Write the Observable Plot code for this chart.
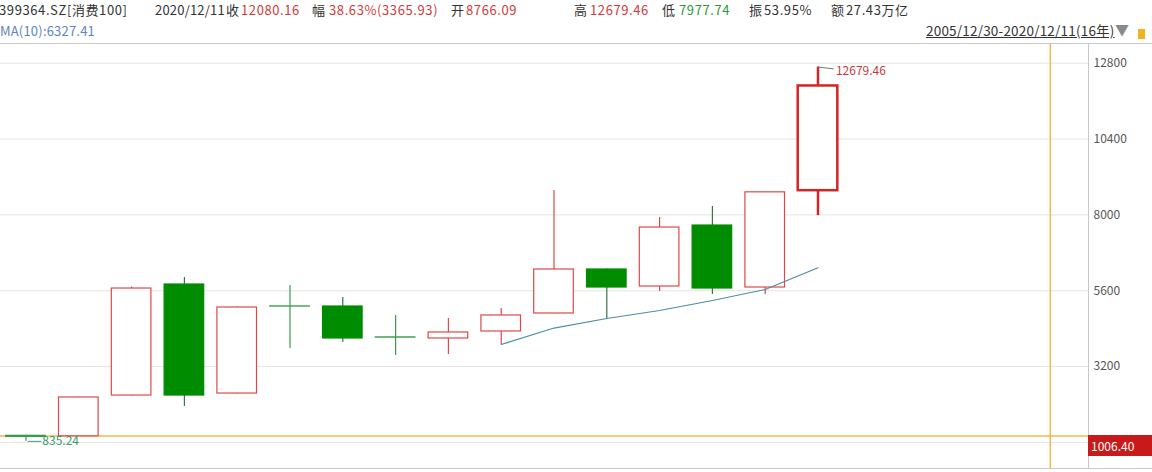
<!DOCTYPE html>
<html>
<head>
<meta charset="utf-8">
<script src="https://cdn.jsdelivr.net/npm/d3@7"></script>
<script src="https://cdn.jsdelivr.net/npm/@observablehq/plot@0.6"></script>
<style>
  html, body { margin: 0; padding: 0; background: #fff; }
  body { width: 1152px; height: 472px; overflow: hidden; font-family: "Noto Sans CJK SC", "Noto Sans", sans-serif; }
  #wrap { position: relative; width: 1152px; height: 472px; }
  #header { position: absolute; left: 0; top: 0; width: 1152px; height: 43px; border-bottom: 1px solid #c8c8c8; }
  .h { position: absolute; white-space: nowrap; font-size: 13px; letter-spacing: 0.6px; line-height: 17px; color: #333; }
  .r { color: #d23a3a; }
  .g { color: #2a9a3a; }
  #chart { position: absolute; left: 0; top: 44px; width: 1152px; height: 424px; border-bottom: 1px solid #c8c8c8; }
  #crossLabel { position: absolute; left: 1088px; width: 64px; height: 21px; background: #c81a1a; color: #fff; font-size: 12px; line-height: 21px; padding-left: 3px; box-sizing: border-box; }
</style>
</head>
<body>
<div id="wrap">
  <div id="header">
    <span class="h" style="left:-1px;top:1px;">399364.SZ[消费100]</span>
    <span class="h" style="left:155px;top:1px;letter-spacing:0.2px;">2020/12/11</span>
    <span class="h" style="left:226px;top:1px;">收</span>
    <span class="h r" style="left:241px;top:1px;">12080.16</span>
    <span class="h" style="left:312px;top:1px;">幅</span>
    <span class="h r" style="left:329px;top:1px;">38.63%(3365.93)</span>
    <span class="h" style="left:451px;top:1px;">开</span>
    <span class="h r" style="left:466px;top:1px;">8766.09</span>
    <span class="h" style="left:574px;top:1px;">高</span>
    <span class="h r" style="left:590px;top:1px;">12679.46</span>
    <span class="h" style="left:662px;top:1px;">低</span>
    <span class="h g" style="left:679px;top:1px;">7977.74</span>
    <span class="h" style="left:749px;top:1px;">振</span>
    <span class="h" style="left:764px;top:1px;">53.95%</span>
    <span class="h" style="left:831px;top:1px;">额</span>
    <span class="h" style="left:846px;top:1px;">27.43万亿</span>
    <span class="h" style="left:0px;top:22px;font-size:13px;letter-spacing:0.2px;color:#5b86c4;">MA(10):6327.41</span>
    <span class="h" style="left:926px;top:22px;font-size:13.5px;letter-spacing:0.2px;text-decoration:underline;">2005/12/30-2020/12/11(16年)</span>
    <span class="h" style="left:1115px;top:21px;font-size:14px;color:#8a8a8a;">▼</span>
    <span style="position:absolute;left:1138px;top:29px;width:7px;height:10px;background:#f2b21c;"></span>
  </div>
  <div id="chart"></div>
</div>
<script>
// ---- data ----
const years  = [2005, 2006, 2007, 2008, 2009, 2010, 2011, 2012, 2013, 2014, 2015, 2016, 2017, 2018, 2019, 2020];
const opens  = [1010, 995, 2285, 5798, 2348, 5105, 5102, 4125, 4090, 4311, 4881, 6273, 5735, 7664, 5703, 8766.09];
const closes = [975, 2223, 5671, 2285, 5070, 5100, 4090, 4118, 4280, 4818, 6273, 5703, 7601, 5671, 8714.23, 12080.16];
const highs  = [1030, 2230, 5720, 6020, 5085, 5766, 5387, 4818, 4723, 5039, 8772, 6285, 7918, 8266, 8725, 12679.46];
const lows   = [835.24, 985, 2270, 1940, 2335, 3773, 3963, 3552, 3584, 3900, 4870, 4723, 5577, 5482, 5482, 7977.74];
const maYears  = [2014, 2015, 2016, 2017, 2018, 2019, 2020];
const maValues = [3900, 4420, 4722, 4976, 5292, 5640, 6327.41];
const yTicks = [3200, 5600, 8000, 10400, 12800];
const gridValues = [800, 3200, 5600, 8000, 10400, 12800];
const crossValue = 1006.40;
const crossYear = 2024.4;
const selectedYear = 2020;

// ---- build table ----
const candles = years.map((year, i) => ({
  year, open: opens[i], close: closes[i], high: highs[i], low: lows[i],
  up: closes[i] >= opens[i],
  doji: Math.abs(closes[i] - opens[i]) < 60,
  selected: year === selectedYear
}));
const ma = maYears.map((year, i) => ({year, value: maValues[i]}));
const maxC = candles.reduce((a, b) => (b.high > a.high ? b : a));
const minC = candles.reduce((a, b) => (b.low < a.low ? b : a));

const RED = "#e04848", RED_SEL = "#d42424", GREEN = "#008c00", GREEN_LINE = "#3c9a4c", GREEN_WICK = "#3f7048";
const bodyStroke = d => d.up ? (d.selected ? RED_SEL : RED) : (d.doji ? GREEN_LINE : GREEN);
const wickStroke = d => d.up ? (d.selected ? RED_SEL : RED) : (d.doji ? GREEN_LINE : GREEN_WICK);
const half = 0.375;
const xDomain = [2004.517, 2025.123];

const chart = Plot.plot({
  width: 1152,
  height: 424,
  marginLeft: 0,
  marginRight: 64,
  marginTop: 0,
  marginBottom: 0,
  x: {domain: xDomain, axis: null},
  y: {domain: [-24, 13392], axis: "right", ticks: yTicks, tickSize: 0, tickPadding: 5, tickFormat: d3.format("d"), label: null},
  style: {fontFamily: '"Noto Sans CJK SC", "Noto Sans", sans-serif', fontSize: "12px", color: "#555", background: "white", overflow: "visible"},
  marks: [
    Plot.ruleY(gridValues, {stroke: "#e4e4e4", strokeWidth: 1}),
    Plot.ruleY([crossValue], {stroke: "#f0b850", strokeWidth: 1.5}),
    Plot.ruleX([crossYear], {stroke: "#f0b850", strokeWidth: 1.5}),
    Plot.ruleX(candles, {x: "year", y1: "low", y2: "high", stroke: wickStroke, strokeWidth: d => d.selected ? 2.5 : 1.2}),
    Plot.rect(candles, {
      x1: d => d.year - half, x2: d => d.year + half, y1: "open", y2: "close",
      fill: d => d.up ? "white" : (d.doji ? "none" : GREEN),
      stroke: bodyStroke,
      strokeWidth: d => d.selected ? 2.5 : 1.2
    }),
    Plot.line(ma, {x: "year", y: "value", stroke: "#4a8fa0", strokeWidth: 1.2}),
    Plot.link([maxC], {x1: "year", y1: "high", x2: d => d.year + 0.3, y2: d => d.high - 60, stroke: "#777", strokeWidth: 1}),
    Plot.text([maxC], {x: d => d.year + 0.34, y: d => d.high - 140, text: d => d.high.toFixed(2), textAnchor: "start", fill: "#c43a3a", fontSize: 12}),
    Plot.link([minC], {x1: d => d.year + 0.03, y1: "low", x2: d => d.year + 0.29, y2: "low", stroke: "#3aa08a", strokeWidth: 1}),
    Plot.text([minC], {x: d => d.year + 0.31, y: "low", text: d => d.low.toFixed(2), textAnchor: "start", fill: "#3a9a6a", fontSize: 12}),
    Plot.ruleX([xDomain[1]], {stroke: "#c8c8c8", strokeWidth: 1})
  ]
});
document.getElementById("chart").appendChild(chart);

// crosshair value label on the right axis
const yPos = chart.scale("y").apply(crossValue);
const lab = document.createElement("div");
lab.id = "crossLabel";
lab.style.top = (44 + yPos) + "px";
lab.textContent = crossValue.toFixed(2);
document.getElementById("wrap").appendChild(lab);
</script>
</body>
</html>
